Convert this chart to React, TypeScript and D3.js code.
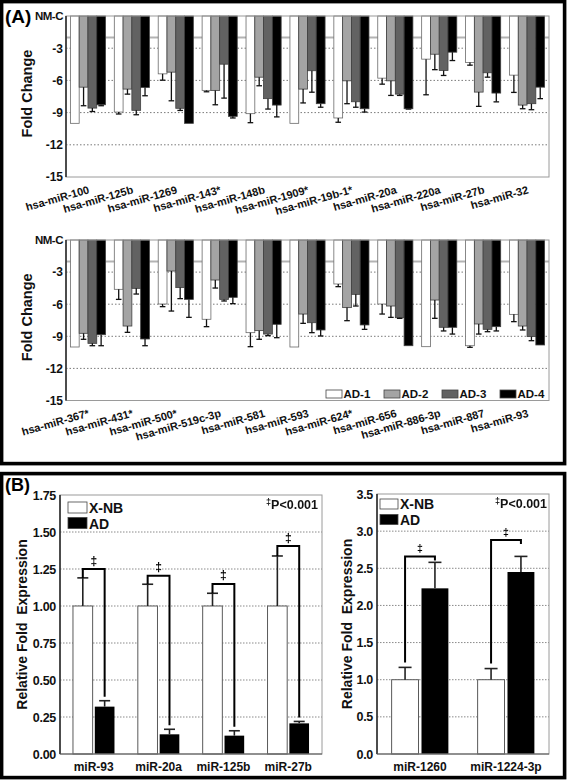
import React from 'react';
import * as d3 from 'd3';

const FONT = "'Liberation Sans', Arial, Helvetica, sans-serif";

// ---------- Panel A data ----------
const AD_SERIES = ['AD-1', 'AD-2', 'AD-3', 'AD-4'];
const AD_FILLS = ['#ffffff', '#a4a4a4', '#626262', '#000000'];
const FOLD_TICKS = [0, -3, -6, -9, -12, -15];
const THRESHOLD = -2;

const topCats = ['hsa-miR-100', 'hsa-miR-125b', 'hsa-miR-1269', 'hsa-miR-143*', 'hsa-miR-148b', 'hsa-miR-1909*', 'hsa-miR-19b-1*', 'hsa-miR-20a', 'hsa-miR-220a', 'hsa-miR-27b', 'hsa-miR-32'];
const topAD1 = [-10.0, -8.95, -5.39, -6.93, -9.1, -10.0, -9.5, -5.79, -4.02, -4.33, -5.51];
const topAD1Err = [0, 0.18, 0.59, 0.13, 0.84, 0, 0.4, 0.56, 3.32, 0.25, 1.61];
const topAD2 = [-6.63, -6.81, -5.23, -6.93, -5.7, -6.81, -6.04, -6.04, -3.56, -7.09, -8.3];
const topAD2Err = [1.73, 0.47, 2.67, 1.34, 0.8, 1.29, 2.13, 1.36, 1.44, 1.33, 0.34];
const topAD3 = [-8.58, -8.79, -8.6, -4.49, -7.7, -5.1, -7.99, -7.28, -5.08, -5.29, -8.17];
const topAD3Err = [0.32, 0.41, 0.2, 3.16, 0.97, 2.0, 0.51, 0.12, 0.46, 0.41, 0.56];
const topAD4 = [-8.27, -6.66, -10.0, -9.35, -8.3, -8.17, -8.64, -8.64, -3.37, -7.18, -6.63];
const topAD4Err = [0.09, 0.77, 0, 0.15, 1.1, 0.33, 0.31, 0.03, 0.78, 0.82, 1.07];

const botCats = ['hsa-miR-367*', 'hsa-miR-431*', 'hsa-miR-500*', 'hsa-miR-519c-3p', 'hsa-miR-581', 'hsa-miR-593', 'hsa-miR-624*', 'hsa-miR-656', 'hsa-miR-886-3p', 'hsa-miR-887', 'hsa-miR-93'];
const botAD1 = [-10.0, -4.61, -5.98, -7.41, -8.66, -10.0, -4.11, -5.98, -9.97, -9.88, -6.95];
const botAD1Err = [0, 0.94, 0.25, 0.69, 1.31, 0, 0.25, 0.94, 0, 0.15, 0.68];
const botAD2 = [-8.72, -8.04, -2.9, -3.74, -8.47, -6.92, -6.32, -6.17, -5.61, -7.85, -8.04];
const botAD2Err = [0.56, 0.59, 3.74, 0.75, 0.81, 0.87, 1.22, 1.06, 1.71, 0.94, 0.37];
const botAD3 = [-9.66, -4.52, -4.45, -5.55, -8.79, -7.73, -5.08, -7.26, -8.16, -8.35, -9.03];
const botAD3Err = [0.22, 0.53, 1.03, 0.15, 0.15, 0.93, 1.09, 0.06, 0.34, 0.22, 0.38];
const botAD4 = [-8.85, -9.25, -5.55, -5.36, -7.88, -8.41, -7.94, -9.88, -8.16, -8.1, -9.81];
const botAD4Err = [1.03, 0.63, 1.68, 0.59, 1.25, 0.56, 0.41, 0, 0.63, 0.4, 0];

// ---------- Panel B data ----------
const B_SERIES = ['X-NB', 'AD'];
const leftCats = ['miR-93', 'miR-20a', 'miR-125b', 'miR-27b'];
const leftXNB = [1, 1, 1, 1];
const leftXNBErr = [0.19, 0.147, 0.086, 0.338];
const leftAD = [0.32, 0.133, 0.124, 0.207];
const leftADErr = [0.04, 0.034, 0.033, 0.013];
const leftBracket = [1.25, 1.205, 1.149, 1.405];
const leftTicks = [0, 0.25, 0.5, 0.75, 1.0, 1.25, 1.5, 1.75];

const rightCats = ['miR-1260', 'miR-1224-3p'];
const rightXNB = [1, 1];
const rightXNBErr = [0.166, 0.15];
const rightAD = [2.23, 2.45];
const rightADErr = [0.35, 0.21];
const rightBracket = [2.66, 2.88];
const rightTicks = [0, 0.5, 1.0, 1.5, 2.0, 2.5, 3.0, 3.5];

type FoldProps = {
  cats: string[];
  vals: number[][];
  errs: number[][];
  top: number;
  bottom: number;
  legend?: boolean;
};

function FoldChart({ cats, vals, errs, top, bottom, legend }: FoldProps) {
  const left = 66;
  const right = 549;
  const y = d3.scaleLinear().domain([0, -15]).range([top, bottom]);
  const x0 = d3.scaleBand<string>().domain(cats).range([left, right]).paddingInner(0.2).paddingOuter(0.1);
  const x1 = d3.scaleBand<string>().domain(AD_SERIES).range([0, x0.bandwidth()]);
  const bw = x1.bandwidth();
  return (
    <g fontFamily={FONT} fontWeight="bold">
      {FOLD_TICKS.filter((t) => t !== 0 && t !== -15).map((t) => (
        <line key={'g' + t} x1={left} x2={right} y1={y(t)} y2={y(t)} stroke="#7a7a7a" strokeWidth={1} strokeDasharray="1.5,2" />
      ))}
      <line x1={left} x2={right} y1={y(THRESHOLD)} y2={y(THRESHOLD)} stroke="#b3b3b3" strokeWidth={2} />
      {cats.map((c, i) => (
        <g key={c}>
          {AD_SERIES.map((s, k) => {
            const v = vals[k][i];
            const e = errs[k][i];
            const bx = (x0(c) as number) + (x1(s) as number);
            const cx = bx + bw / 2;
            return (
              <g key={s}>
                <rect x={bx} y={y(0)} width={bw} height={y(v) - y(0)} fill={AD_FILLS[k]} stroke={k === 0 ? '#6a6a6a' : '#404040'} strokeWidth={0.8} />
                {e > 0 && (
                  <g stroke="#111" strokeWidth={1.3}>
                    <line x1={cx} x2={cx} y1={y(v)} y2={y(v - e)} />
                    <line x1={cx - 2.8} x2={cx + 2.8} y1={y(v - e)} y2={y(v - e)} />
                  </g>
                )}
              </g>
            );
          })}
        </g>
      ))}
      <rect x={left} y={top} width={right - left} height={bottom - top} fill="none" stroke="#9a9a9a" strokeWidth={1} />
      <line x1={left} x2={left} y1={top} y2={bottom} stroke="#222" strokeWidth={1.5} />
      {FOLD_TICKS.map((t) => (
        <text key={'t' + t} x={left - 3} y={y(t)} dy="0.36em" textAnchor="end" fontSize={t === 0 ? 11.5 : 12} fill="#111" letterSpacing={t === 0 ? -0.5 : 0}>
          {t === 0 ? 'NM-C' : String(t)}
        </text>
      ))}
      {cats.map((c) => (
        <text key={'l' + c} transform={`translate(${(x0(c) as number) + x0.bandwidth() / 2 + 2},${bottom + 16}) rotate(-16)`} textAnchor="end" fontSize={11} fill="#111">
          {c}
        </text>
      ))}
      <text transform={`translate(27,${(top + bottom) / 2 - 3}) rotate(-90)`} textAnchor="middle" dy="0.35em" fontSize={14.5} fill="#111">
        Fold Change
      </text>
      {legend &&
        AD_SERIES.map((s, k) => (
          <g key={'lg' + s}>
            <rect x={326 + k * 58} y={bottom - 10.5} width={16} height={8} fill={AD_FILLS[k]} stroke="#444" strokeWidth={0.8} />
            <text x={326 + k * 58 + 17.5} y={bottom - 2.5} fontSize={11.5} fill="#111">
              {s}
            </text>
          </g>
        ))}
    </g>
  );
}

type ExprProps = {
  cats: string[];
  xnb: number[];
  xnbErr: number[];
  ad: number[];
  adErr: number[];
  brackets: number[];
  ticks: number[];
  fmt: string;
  left: number;
  right: number;
  top: number;
  bottom: number;
  padIn: number;
  padOut: number;
  labelX: number;
  legendX: number;
  legendY: number;
  legendBox: [number, number];
  pX: number;
  longBracket: boolean;
  capW: number;
};

function ExprChart(p: ExprProps) {
  const { cats, xnb, xnbErr, ad, adErr, brackets, ticks, left, right, top, bottom } = p;
  const yMax = ticks[ticks.length - 1];
  const y = d3.scaleLinear().domain([0, yMax]).range([bottom, top]);
  const x0 = d3.scaleBand<string>().domain(cats).range([left, right]).paddingInner(p.padIn).paddingOuter(p.padOut);
  const x1 = d3.scaleBand<string>().domain(B_SERIES).range([0, x0.bandwidth()]).paddingInner(0.1);
  const bw = x1.bandwidth();
  const fmt = d3.format(p.fmt);
  return (
    <g fontFamily={FONT} fontWeight="bold">
      {ticks.filter((t) => t > 0 && t < yMax).map((t) => (
        <line key={'g' + t} x1={left} x2={right} y1={y(t)} y2={y(t)} stroke="#8a8a8a" strokeWidth={1} strokeDasharray="1.5,1.5" />
      ))}
      {cats.map((c, i) => {
        const xw = (x0(c) as number) + (x1('X-NB') as number);
        const xb = (x0(c) as number) + (x1('AD') as number);
        const cw = xw + bw / 2;
        const cb = xb + bw / 2;
        const wTop = y(xnb[i] + xnbErr[i]);
        const bTop = y(ad[i] + adErr[i]);
        const by = y(brackets[i]);
        const half = p.capW / 2;
        return (
          <g key={c}>
            <rect x={xw} y={y(xnb[i])} width={bw} height={bottom - y(xnb[i])} fill="#fff" stroke="#5a5a5a" strokeWidth={1} />
            <rect x={xb} y={y(ad[i])} width={bw} height={bottom - y(ad[i])} fill="#000" />
            <g stroke="#222" strokeWidth={1.6}>
              <line x1={cw} x2={cw} y1={y(xnb[i])} y2={wTop} />
              <line x1={cw - half} x2={cw + half} y1={wTop} y2={wTop} />
              <line x1={cb} x2={cb} y1={y(ad[i])} y2={bTop} />
              <line x1={cb - half} x2={cb + half} y1={bTop} y2={bTop} />
            </g>
            <path
              d={p.longBracket ? `M${cw},${wTop} V${by} H${cb} V${bTop - 4}` : `M${cw},${wTop - 5} V${by} H${cb} v4`}
              fill="none"
              stroke="#000"
              strokeWidth={2}
            />
            <text
              x={(cw + cb) / 2}
              y={by - (p.longBracket ? 4.5 : 4)}
              textAnchor="middle"
              fontSize={p.longBracket ? 12 : 10.5}
              fontWeight="bold"
              fill="#000"
              opacity={0.99}
              filter="url(#gray-aa)"
            >
              ‡
            </text>
          </g>
        );
      })}
      <rect x={left} y={top} width={right - left} height={bottom - top} fill="none" stroke="#9a9a9a" strokeWidth={1} />
      <line x1={left} x2={left} y1={top} y2={bottom} stroke="#222" strokeWidth={1.5} />
      <line x1={left} x2={right} y1={bottom} y2={bottom} stroke="#555" strokeWidth={1.2} />
      {ticks.map((t) => (
        <text key={'t' + t} x={left - 4} y={y(t)} dy="0.36em" textAnchor="end" fontSize={12.5} fill="#111" letterSpacing={-0.3}>
          {fmt(t)}
        </text>
      ))}
      {cats.map((c) => (
        <text key={'c' + c} x={(x0(c) as number) + x0.bandwidth() / 2} y={bottom + 17} textAnchor="middle" fontSize={12} fill="#111">
          {c}
        </text>
      ))}
      <text transform={`translate(${p.labelX},${(top + bottom) / 2}) rotate(-90)`} textAnchor="middle" dy="0.35em" fontSize={14} fill="#111" style={{ whiteSpace: 'pre' }}>
        {'Relative Fold  Expression'}
      </text>
      {B_SERIES.map((s, k) => (
        <g key={'lg' + s}>
          <rect x={p.legendX} y={p.legendY + k * 15.5} width={p.legendBox[0]} height={p.legendBox[1]} fill={k === 0 ? '#fff' : '#000'} stroke="#444" strokeWidth={0.8} />
          <text x={p.legendX + p.legendBox[0] + 2} y={p.legendY + k * 15.5 + p.legendBox[1]} fontSize={14} fill="#111">
            {s}
          </text>
        </g>
      ))}
      <text x={p.pX} y={top + 14} textAnchor="end" fill="#111" opacity={0.99} filter="url(#gray-aa)">
        <tspan fontSize={9} dy={-4}>‡</tspan>
        <tspan fontSize={12.5} dy={4}>P&lt;0.001</tspan>
      </text>
    </g>
  );
}

export default function App() {
  return (
    <svg width={567} height={780} style={{ position: 'absolute', left: 0, top: 0, display: 'block', background: '#fff' }}>
      <defs>
        <filter id="gray-aa" x="-50%" y="-50%" width="200%" height="200%">
          <feColorMatrix type="saturate" values="0" />
        </filter>
      </defs>
      <rect x={0} y={0} width={567} height={780} fill="#fff" />
      {/* Panel A */}
      <rect x={1.6} y={1.6} width={563} height={462} fill="none" stroke="#000" strokeWidth={3.6} />
      <text x={5} y={23} fontFamily={FONT} fontWeight="bold" fontSize={19} fill="#000">(A)</text>
      <FoldChart
        cats={topCats}
        vals={[topAD1, topAD2, topAD3, topAD4]}
        errs={[topAD1Err, topAD2Err, topAD3Err, topAD4Err]}
        top={16}
        bottom={177}
      />
      <FoldChart
        cats={botCats}
        vals={[botAD1, botAD2, botAD3, botAD4]}
        errs={[botAD1Err, botAD2Err, botAD3Err, botAD4Err]}
        top={240}
        bottom={400.5}
        legend
      />
      {/* Panel B */}
      <rect x={1.6} y={473.6} width={563} height={304} fill="none" stroke="#000" strokeWidth={3.6} />
      <text x={5} y={491} fontFamily={FONT} fontWeight="bold" fontSize={18} fill="#000">(B)</text>
      <ExprChart
        cats={leftCats}
        xnb={leftXNB}
        xnbErr={leftXNBErr}
        ad={leftAD}
        adErr={leftADErr}
        brackets={leftBracket}
        ticks={leftTicks}
        fmt=".2f"
        left={60}
        right={322}
        top={495}
        bottom={754}
        padIn={0.36}
        padOut={0.2}
        labelX={22}
        legendX={68}
        legendY={502}
        legendBox={[19, 11]}
        pX={318}
        longBracket
        capW={11}
      />
      <ExprChart
        cats={rightCats}
        xnb={rightXNB}
        xnbErr={rightXNBErr}
        ad={rightAD}
        adErr={rightADErr}
        brackets={rightBracket}
        ticks={rightTicks}
        fmt=".1f"
        left={377}
        right={549}
        top={494}
        bottom={754}
        padIn={0.34}
        padOut={0.17}
        labelX={347}
        legendX={380}
        legendY={499}
        legendBox={[18, 10]}
        pX={547}
        longBracket={false}
        capW={13}
      />
    </svg>
  );
}
